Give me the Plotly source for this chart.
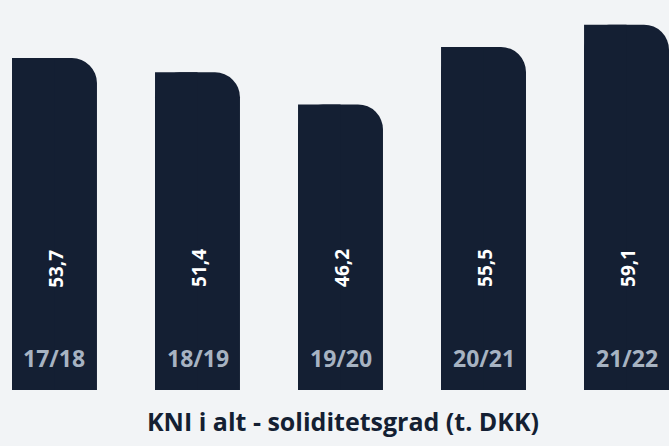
import plotly.graph_objects as go

categories = ["17/18", "18/19", "19/20", "20/21", "21/22"]
values = [53.7, 51.4, 46.2, 55.5, 59.1]
value_labels = ["53,7", "51,4", "46,2", "55,5", "59,1"]
title_text = "KNI i alt - soliditetsgrad (t. DKK)"

NAVY = "#141f33"
BG = "#f2f4f6"
CAT_COLOR = "#a7b3c2"
W = 0.594

fig = go.Figure()
fig.add_trace(go.Bar(x=categories, y=values, width=W,
                     marker=dict(color=NAVY, cornerradius=25, line=dict(width=0)),
                     hoverinfo="skip"))
fig.add_trace(go.Bar(x=categories, y=values, width=W / 2, offset=-W / 2,
                     marker=dict(color=NAVY, line=dict(width=0)),
                     hoverinfo="skip"))

annotations = []
for c, lab in zip(categories, value_labels):
    annotations.append(dict(x=c, xref="x", y=0.258, yref="paper", text=lab,
                            showarrow=False, textangle=-90, xshift=2,
                            font=dict(family="Open Sans", size=19, color="white", weight=700)))
    annotations.append(dict(x=c, xref="x", y=0.083, yref="paper", text=c,
                            showarrow=False, yanchor="middle",
                            font=dict(family="Open Sans", size=23, color=CAT_COLOR, weight=700)))
annotations.append(dict(x=0.512, xref="paper", y=-0.08, yref="paper", text=title_text,
                        showarrow=False, yanchor="middle",
                        font=dict(family="Open Sans", size=25, color=NAVY, weight=700)))

fig.update_layout(
    width=669, height=446,
    margin=dict(l=0, r=0, t=0, b=56),
    paper_bgcolor=BG, plot_bgcolor=BG,
    barmode="overlay", showlegend=False,
    xaxis=dict(range=[-0.381, 4.297], visible=False, fixedrange=True),
    yaxis=dict(range=[0, 63.1], visible=False, fixedrange=True),
    annotations=annotations,
)
fig.write_html("out.html")
